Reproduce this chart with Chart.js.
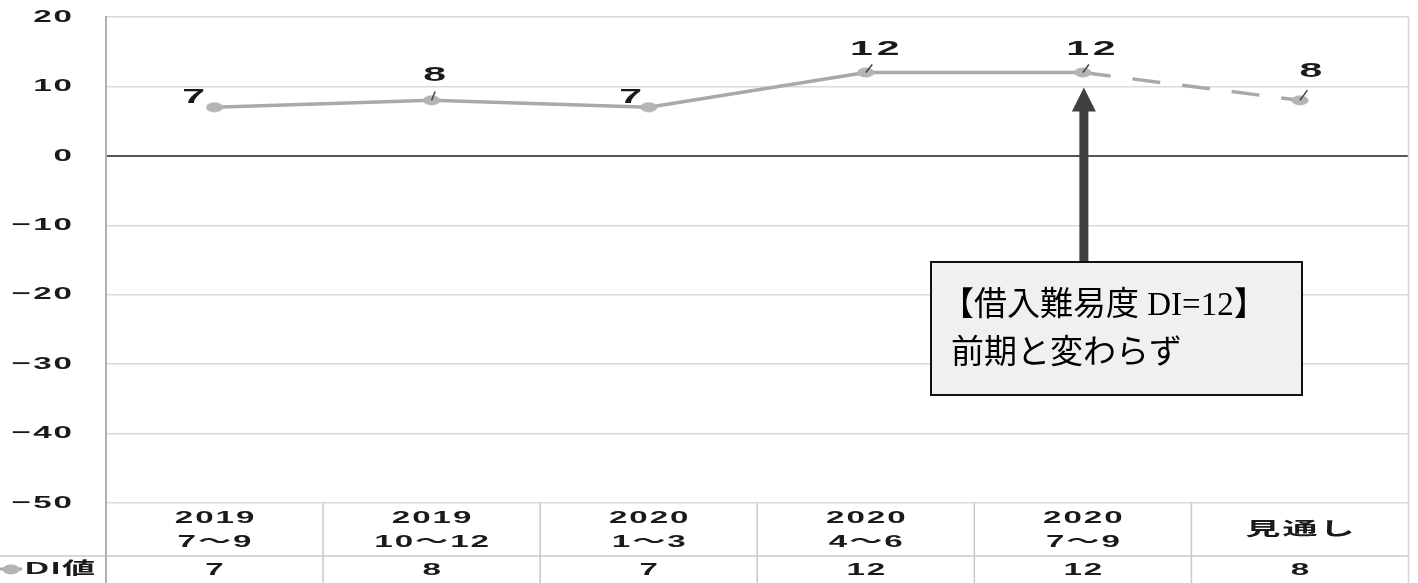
<!DOCTYPE html>
<html lang="ja">
<head>
<meta charset="UTF-8">
<title>借入難易度 DI</title>
<script src="https://cdn.jsdelivr.net/npm/chart.js@4/dist/chart.umd.min.js"></script>
<style>
    html, body { margin: 0; padding: 0; background: #ffffff; }
    #chart-wrap { position: relative; width: 1418px; height: 583px; }
</style>
</head>
<body>
<div id="chart-wrap"><canvas id="di-chart"></canvas></div>
<script>
const categories = [['2019', '7〜9'], ['2019', '10〜12'], ['2020', '1〜3'], ['2020', '4〜6'], ['2020', '7〜9'], ['見通し']];
const diValues = [7, 8, 7, 12, 12, 8];
const seriesName = 'DI値';
const yMin = -50;
const yMax = 20;
const yStep = 10;
const noteLines = ['【借入難易度 DI=12】', '前期と変わらず'];
const noteIndex = 4;

// layout constants (not data)
const labelOffsets = [[-21, -10], [3, -25], [-18, -10], [9, -23], [8, -23], [11, -29]];
const STRETCH = 1.95;
const FONT = '"Liberation Sans", "Noto Sans CJK JP", sans-serif';
const LINE_GRAY = '#a9a9a9';
const TABLE_GRAY = '#c8c8c8';

document.addEventListener('DOMContentLoaded', () => {

    const ctxEl = document.getElementById('di-chart').getContext('2d');

    const dot = document.createElement('canvas');
    dot.width = 18;
    dot.height = 11;
    const g = dot.getContext('2d');
    g.fillStyle = '#b4b4b4';
    g.beginPath();
    g.ellipse(9, 5.5, 8.5, 5, 0, 0, Math.PI * 2);
    g.fill();

    const drawWide = (ctx, text, x, y, align, size, spacing = 1) => {
        ctx.save();
        ctx.font = `bold ${size}px ${FONT}`;
        ctx.letterSpacing = `${spacing}px`;
        ctx.fillStyle = '#1a1a1a';
        ctx.translate(x, y);
        ctx.scale(STRETCH, 1);
        ctx.textAlign = align;
        ctx.textBaseline = 'middle';
        // letterSpacing adds trailing space, shift back half of it when centred
        const shift = align === 'center' ? spacing / 2 : (align === 'right' ? spacing : 0);
        ctx.fillText(text, shift, 0);
        ctx.restore();
    };

    const line = (ctx, x1, y1, x2, y2, color, width) => {
        ctx.save();
        ctx.strokeStyle = color;
        ctx.lineWidth = width;
        ctx.beginPath();
        ctx.moveTo(x1, y1);
        ctx.lineTo(x2, y2);
        ctx.stroke();
        ctx.restore();
    };

    // y tick labels, data table under the plot, right border
    const tablePlugin = {
        id: 'tablePlugin',
        afterDraw: (chart) => {
            const { ctx, chartArea, scales } = chart;
            const x = scales.x;
            const y = scales.y;
            const H = chart.height;
            const colW = (chartArea.right - chartArea.left) / categories.length;

            y.ticks.forEach(t => {
                drawWide(ctx, String(t.value).replace('-', '−'), 72, y.getPixelForValue(t.value), 'right', 17);
            });

            const rowY = 556;
            line(ctx, 0, rowY, chartArea.right, rowY, TABLE_GRAY, 1.5);
            line(ctx, chartArea.left, chartArea.bottom, chartArea.left, H, '#b0b0b0', 2);
            line(ctx, chartArea.right, chartArea.top, chartArea.right, H, '#d4d4d4', 1.5);
            for (let i = 1; i < categories.length; i++) {
                const bx = chartArea.left + colW * i;
                line(ctx, bx, chartArea.bottom, bx, H, TABLE_GRAY, 1.5);
            }

            categories.forEach((cat, i) => {
                const cx = x.getPixelForValue(i);
                if (cat.length === 2) {
                    drawWide(ctx, cat[0], cx, 518, 'center', 17);
                    drawWide(ctx, cat[1], cx, 542, 'center', 17);
                } else {
                    drawWide(ctx, cat[0], cx, 530, 'center', 18);
                }
                drawWide(ctx, String(diValues[i]), cx, 570, 'center', 17);
            });

            line(ctx, 0, 569, 22, 569, LINE_GRAY, 3);
            ctx.drawImage(dot, 2, 564);
            drawWide(ctx, seriesName, 25, 569, 'left', 17);
        }
    };

    // point labels with short leader lines
    const labelPlugin = {
        id: 'labelPlugin',
        afterDatasetsDraw: (chart) => {
            const { ctx } = chart;
            const meta = chart.getDatasetMeta(0);
            meta.data.forEach((pt, i) => {
                const [dx, dy] = labelOffsets[i];
                if (dx >= 0) {
                    line(ctx, pt.x, pt.y, pt.x + dx * 0.5 + 2, pt.y + dy * 0.35, '#444444', 1.5);
                }
                drawWide(ctx, String(diValues[i]), pt.x + dx, pt.y + dy, 'center', 21, 2);
            });
        }
    };

    // arrow and note box
    const notePlugin = {
        id: 'notePlugin',
        afterDraw: (chart) => {
            const { ctx, scales } = chart;
            const ax = scales.x.getPixelForValue(noteIndex) + 1;
            const tipY = scales.y.getPixelForValue(diValues[noteIndex]) + 15;
            const box = { left: 931, top: 262, right: 1302, bottom: 395 };

            ctx.save();
            ctx.fillStyle = '#404040';
            ctx.fillRect(ax - 4.5, tipY + 22, 9, box.top - tipY - 14);
            ctx.beginPath();
            ctx.moveTo(ax, tipY);
            ctx.lineTo(ax + 12, tipY + 24);
            ctx.lineTo(ax - 12, tipY + 24);
            ctx.closePath();
            ctx.fill();

            ctx.fillStyle = '#f0f0f0';
            ctx.fillRect(box.left, box.top, box.right - box.left, box.bottom - box.top);
            ctx.strokeStyle = '#111111';
            ctx.lineWidth = 2;
            ctx.strokeRect(box.left, box.top, box.right - box.left, box.bottom - box.top);

            ctx.fillStyle = '#000000';
            ctx.font = '33px "Liberation Serif", "Noto Sans CJK JP", serif';
            ctx.textAlign = 'left';
            ctx.textBaseline = 'middle';
            ctx.fillText(noteLines[0], box.left + 10, 306);
            ctx.fillText(noteLines[1], box.left + 20, 354);
            ctx.restore();
        }
    };

    new Chart(ctxEl, {
        type: 'line',
        data: {
            labels: categories,
            datasets: [{
                label: seriesName,
                data: diValues,
                borderColor: LINE_GRAY,
                borderWidth: 3.5,
                pointStyle: dot,
                pointRadius: 6,
                tension: 0,
                segment: {
                    borderDash: c => c.p1DataIndex === diValues.length - 1 ? [28, 22] : undefined
                }
            }]
        },
        options: {
            responsive: true,
            maintainAspectRatio: false,
            animation: false,
            layout: { padding: { left: 0, top: 17, right: 8, bottom: 80 } },
            plugins: {
                legend: { display: false },
                tooltip: { enabled: false }
            },
            scales: {
                x: { type: 'category', offset: true, display: false },
                y: {
                    min: yMin,
                    max: yMax,
                    ticks: { stepSize: yStep, display: false },
                    grid: {
                        drawTicks: false,
                        color: c => c.tick.value === 0 ? '#555555' : '#d9d9d9',
                        lineWidth: c => c.tick.value === 0 ? 2 : 1.5
                    },
                    border: { display: true, color: '#b0b0b0', width: 2 },
                    afterFit: (s) => { s.width = 106; }
                }
            }
        },
        plugins: [tablePlugin, labelPlugin, notePlugin]
    });
});
</script>
</body>
</html>
